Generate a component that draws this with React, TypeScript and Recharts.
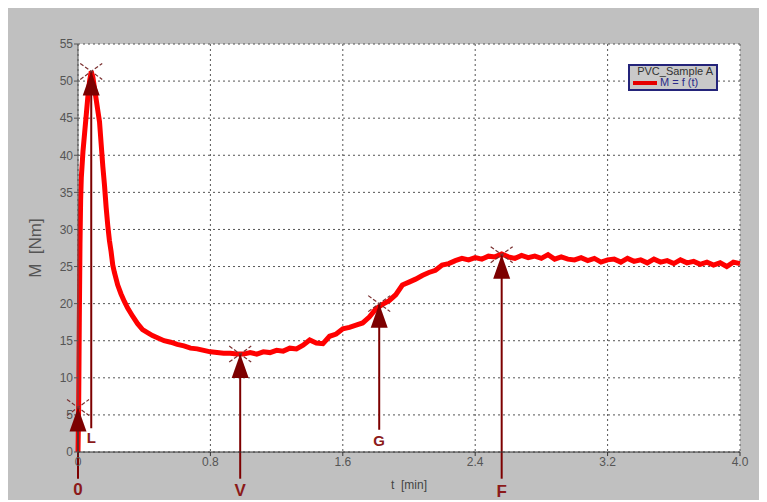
import React from "react";
import {
  CartesianGrid,
  Line,
  LineChart,
  ReferenceDot,
  ReferenceLine,
  XAxis,
  YAxis,
} from "recharts";

// torque curve M = f(t)
const times = [
  0, 0.004, 0.008, 0.012, 0.016, 0.02, 0.03, 0.04, 0.05, 0.06, 0.07, 0.08,
  0.09, 0.1, 0.11, 0.12, 0.13, 0.14, 0.15, 0.16, 0.17, 0.18, 0.19, 0.2, 0.21,
  0.22, 0.24, 0.26, 0.28, 0.3, 0.33, 0.36, 0.39, 0.42, 0.45, 0.48, 0.52, 0.56,
  0.6, 0.64, 0.68, 0.72, 0.76, 0.8, 0.84, 0.88, 0.92, 0.96, 1.0, 1.04, 1.08,
  1.12, 1.16, 1.2, 1.24, 1.28, 1.32, 1.36, 1.4, 1.44, 1.48, 1.52, 1.56, 1.6,
  1.64, 1.68, 1.72, 1.76, 1.8, 1.84, 1.88, 1.92, 1.96, 2.0, 2.04, 2.08, 2.12,
  2.16, 2.2, 2.24, 2.28, 2.32, 2.36, 2.4, 2.44, 2.48, 2.52, 2.56, 2.6, 2.64,
  2.68, 2.72, 2.76, 2.8, 2.84, 2.88, 2.92, 2.96, 3.0, 3.04, 3.08, 3.12, 3.16,
  3.2, 3.24, 3.28, 3.32, 3.36, 3.4, 3.44, 3.48, 3.52, 3.56, 3.6, 3.64, 3.68,
  3.72, 3.76, 3.8, 3.84, 3.88, 3.92, 3.96, 4.0,
];
const torque = [
  0, 6, 18, 28, 34, 37, 40.5, 43, 45.5, 48, 50, 51.3,
  50.5, 49, 47.5, 46, 44.5, 41.5, 38.5, 36, 33, 30.5, 28.5, 27, 25.2,
  24.2, 22.5, 21.3, 20.3, 19.4, 18.3, 17.3, 16.5, 16.1, 15.7, 15.4, 15.0, 14.8,
  14.5, 14.3, 14.0, 13.9, 13.7, 13.5, 13.4, 13.3, 13.3, 13.2, 13.2, 13.4, 13.2,
  13.5, 13.4, 13.7, 13.6, 14.0, 13.9, 14.4, 15.1, 14.7, 14.6, 15.6, 15.9, 16.6,
  16.8, 17.1, 17.4, 18.2, 19.3, 19.9, 20.4, 21.2, 22.5, 22.9, 23.3, 23.8, 24.2,
  24.5, 25.2, 25.4, 25.8, 26.1, 25.9, 26.2, 26.0, 26.4, 26.3, 26.7, 26.3, 26.1,
  26.5, 26.2, 26.4, 26.1, 26.6, 26.0, 26.3, 26.0, 25.9, 26.2, 25.8, 26.1, 25.6,
  25.9, 26.0, 25.6, 26.1, 25.7, 25.9, 25.5, 26.0, 25.6, 25.8, 25.4, 25.9, 25.5,
  25.7, 25.3, 25.6, 25.2, 25.5, 25.0, 25.6, 25.4,
];

// characteristic points: load (0), max (L), min (V), gelation (G), fusion (F)
const markerNames = ["0", "L", "V", "G", "F"];
const markerT = [0, 0.08, 0.98, 1.82, 2.56];
const markerM = [6, 51.3, 13.2, 20.0, 26.6];
const stemEnd = [-3.6, 3.2, -3.6, 3.0, -3.6];
const labelM = [-5.1, 1.9, -5.2, 1.5, -5.3];

const xTicks = [0, 0.8, 1.6, 2.4, 3.2, 4.0];
const yTicks = [0, 5, 10, 15, 20, 25, 30, 35, 40, 45, 50, 55];

const data = times.map((t, i) => ({ t, m: torque[i] }));

const FONT = "'Liberation Sans', Arial, sans-serif";
const DARK_RED = "#7d0000";

function Arrowhead(props: any) {
  const { cx, cy } = props;
  return (
    <g>
      <line x1={cx - 11} y1={cy - 8} x2={cx + 11} y2={cy + 8} stroke="#7a3030" strokeWidth={1.2} strokeDasharray="4 2" />
      <line x1={cx - 11} y1={cy + 8} x2={cx + 11} y2={cy - 8} stroke="#7a3030" strokeWidth={1.2} strokeDasharray="4 2" />
      <polygon points={`${cx},${cy} ${cx - 8.5},${cy + 24} ${cx + 8.5},${cy + 24}`} fill={DARK_RED} />
    </g>
  );
}

function LegendBox() {
  return (
    <div
      style={{
        position: "absolute",
        left: 620,
        top: 56,
        width: 90,
        height: 27,
        boxSizing: "border-box",
        background: "#c9c9c9",
        border: "2px solid #24247a",
        fontFamily: FONT,
        fontSize: 11,
        lineHeight: "11px",
        padding: "0 3px",
      }}
    >
      <div style={{ color: "#333", textAlign: "right" }}>PVC_Sample A</div>
      <div style={{ display: "flex", alignItems: "center" }}>
        <span style={{ display: "inline-block", width: 24, height: 4, background: "#e60000" }} />
        <span style={{ color: "#2a2a8a", marginLeft: 3 }}>M = f (t)</span>
      </div>
    </div>
  );
}

export default function App() {
  return (
    <div style={{ position: "relative", width: 759, height: 494 }}>
      <div style={{ position: "absolute", left: 0, top: 0, width: 759, height: 492, background: "#c0c0c0" }} />
      <LineChart
        width={759}
        height={494}
        data={data}
        margin={{ top: 36, right: 27, left: 10, bottom: 10 }}
      >
        <CartesianGrid fill="#ffffff" stroke="#555" strokeDasharray="2 3" />
        <XAxis
          dataKey="t"
          type="number"
          domain={[0, 4]}
          ticks={xTicks}
          tickFormatter={(v: number) => (v === 0 ? "0" : v.toFixed(1))}
          height={40}
          stroke="#333"
          tickSize={4}
          tickMargin={1}
          tick={{ fill: "#555", fontSize: 12, fontFamily: FONT }}
          label={{
            value: "t\u00a0\u00a0[min]",
            position: "insideBottom",
            offset: 3,
            fill: "#444",
            fontSize: 12,
            fontFamily: FONT,
          }}
        />
        <YAxis
          type="number"
          domain={[0, 55]}
          ticks={yTicks}
          width={60}
          stroke="#555"
          tickSize={4}
          tickMargin={1}
          tick={{ fill: "#555", fontSize: 12, fontFamily: FONT }}
          label={{
            value: "M\u00a0\u00a0[Nm]",
            angle: -90,
            position: "insideLeft",
            offset: 17,
            fill: "#555",
            fontSize: 17,
            fontFamily: FONT,
            style: { textAnchor: "middle" },
          }}
        />
        <Line
          type="linear"
          dataKey="m"
          stroke="#ff0000"
          strokeWidth={5}
          dot={false}
          isAnimationActive={false}
        />
        {markerNames.map((name, i) => (
          <ReferenceLine
            key={`stem-${name}`}
            segment={[
              { x: markerT[i], y: markerM[i] },
              { x: markerT[i], y: stemEnd[i] },
            ]}
            stroke={DARK_RED}
            strokeWidth={2}
            ifOverflow="visible"
          />
        ))}
        {markerNames.map((name, i) => (
          <ReferenceDot
            key={`head-${name}`}
            x={markerT[i]}
            y={markerM[i]}
            ifOverflow="visible"
            shape={(p: any) => <Arrowhead {...p} />}
          />
        ))}
        {markerNames.map((name, i) => (
          <ReferenceDot
            key={`label-${name}`}
            x={markerT[i]}
            y={labelM[i]}
            ifOverflow="visible"
            shape={(p: any) => (
              <text
                x={p.cx}
                y={p.cy}
                textAnchor="middle"
                dominantBaseline="central"
                fill="#8b1a1a"
                fontSize={name === "L" || name === "G" ? 15 : 17}
                fontWeight="bold"
                fontFamily={FONT}
              >
                {name}
              </text>
            )}
          />
        ))}
      </LineChart>
      <LegendBox />
    </div>
  );
}
